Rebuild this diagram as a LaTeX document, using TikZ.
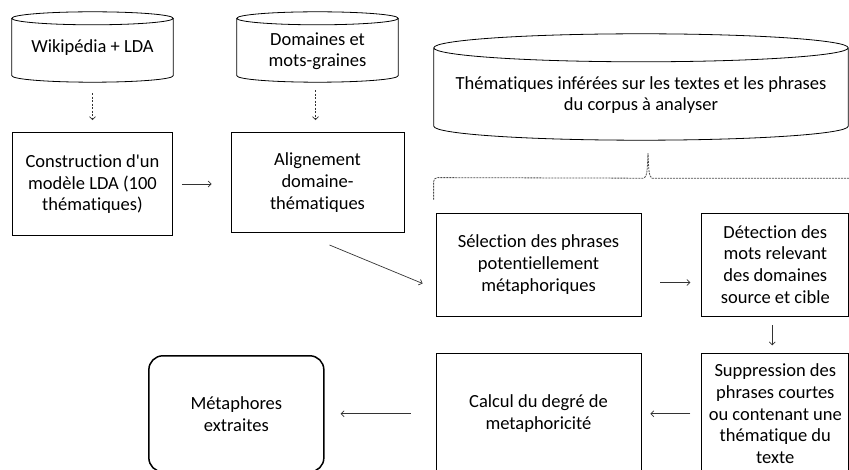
\documentclass[tikz,border=0pt]{standalone}
\usepackage{fontspec}
\setmainfont{Carlito}[Ligatures=NoCommon]
\usetikzlibrary{arrows.meta, positioning, calc}

\begin{document}
\begin{tikzpicture}[
		x=1pt, y=-1pt,
		node distance=50pt and 60pt,
		every node/.style={font=\fontsize{18.5}{21.8}\selectfont, align=center, inner sep=0pt},
		store/.style={minimum width=#1},
		box/.style={draw, rectangle, line width=0.8pt},
		result/.style={draw, rectangle, rounded corners=14pt, line width=1.5pt},
		flow/.style={->, >={Straight Barb[length=3pt,width=6pt]}, line width=0.7pt, black!80},
		link/.style={flow, dash pattern=on 2pt off 1.5pt},
		brace/.style={dash pattern=on 2pt off 1pt, line width=0.8pt, black!70}
		]
		\useasboundingbox (0,0) rectangle (849,470);
		% Data stores
		\node[store=161pt, text height=41pt, text depth=29pt] at (92.5,47) (wiki) {Wikipédia + LDA};
		\node[store=161pt, text height=55pt, text depth=15pt] at (317.5,47) (dom) {Domaines et\\mots-graines};
		\node[store=414pt, text height=77pt, text depth=29pt] at (641,87) (them) {Thématiques inférées sur les textes et les phrases\\du corpus à analyser};
		\foreach \st/\capr in {wiki/6.5, dom/6.5, them/14}
			\draw[line width=0.8pt] let \p1=(\st.north west), \p2=(\st.south east) in
				({(\x1+\x2)/2}, {\y1-\capr pt}) ellipse [x radius={(\x2-\x1)/2}, y radius=\capr pt]
				(\x1, {\y1-\capr pt}) -- (\x1, {\y2+\capr pt})
				arc [start angle=180, end angle=360, x radius={(\x2-\x1)/2}, y radius=\capr pt]
				-- (\x2, {\y1-\capr pt});
		
		% Processing steps
		\node[box, minimum width=160pt, minimum height=103pt, below = of wiki] (lda) {Construction d\textquotesingle un\\modèle LDA (100\\thématiques)};
		\node[box, minimum width=173pt, minimum height=100pt, below = of dom] (align) {Alignement\\domaine-\\thématiques};
		\node[box, minimum width=205pt, minimum height=103pt] at (538.5,264.5) (sel) {Sélection des phrases\\potentiellement\\métaphoriques};
		\node[box, minimum width=147pt, minimum height=103pt, right = of sel] (det) {Détection des\\mots relevant\\des domaines\\source et cible};
		\node[box, minimum width=147pt, minimum height=120pt, below = 37pt of det] (supp) {Suppression des\\phrases courtes\\ou contenant une\\thématique du\\texte};
		\node[box, minimum width=205pt, minimum height=120pt, left = of supp] (degre) {Calcul du degré de\\metaphoricité};
		\node[result, minimum width=175pt, minimum height=116pt, left = 111pt of degre] (meta) {Métaphores\\extraites};
		
		% draw arrows
		\draw[link, shorten <=11pt, shorten >=12pt] (wiki.south) -- (lda.north);
		\draw[link, shorten <=8pt, shorten >=12pt] ([xshift=-2pt]dom.south) -- ([xshift=-2pt]align.north);
		\draw[flow, shorten <=9pt, shorten >=19pt] (lda.east) -- (lda.east -| align.west);
		\draw[flow] ([xshift=12pt,yshift=-12pt]align.south) -- ([xshift=-13pt,yshift=-19pt]sel.west);
		\draw[flow, shorten <=19pt, shorten >=11pt] ([yshift=-18pt]sel.east) -- ([yshift=-18pt]det.west);
		\draw[flow, shorten <=9pt, shorten >=8pt] ([xshift=-3pt]det.south) -- ([xshift=-3pt]supp.north);
		\draw[flow, shorten <=11pt, shorten >=9pt] (supp.west) -- (degre.east);
		\draw[flow, shorten <=25pt, shorten >=16pt] (degre.west) -- (degre.west -| meta.east);
		
		% brace from the corpus topics
		\coordinate (tip) at ($(them.south)+(7,13)$);
		\draw[brace] ([xshift=-2pt,yshift=13pt]sel.north west) -- ++(0,-18) to[out=90,in=180] ++(4,-4)
			-- ($(tip)+(-4,25)$) .. controls ($(tip)+(-1,22)$) .. (tip)
			.. controls ($(tip)+(1,22)$) .. ($(tip)+(4,25)$) -- ++(210,0);
	\end{tikzpicture}
\end{document}
